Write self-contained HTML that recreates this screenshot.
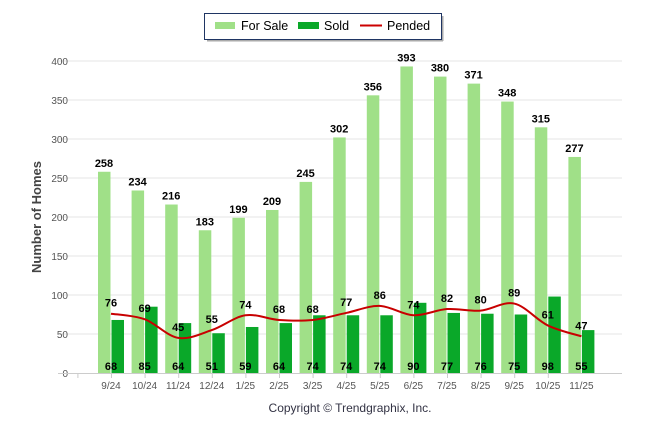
<!DOCTYPE html>
<html><head><meta charset="utf-8"><style>
body{margin:0;background:#fff;font-family:"Liberation Sans",sans-serif}
svg text{font-family:"Liberation Sans",sans-serif}
</style></head><body>
<svg id="c" width="646" height="434">
<g>
<line x1="207" y1="40.5" x2="443" y2="40.5" stroke="#aaa" stroke-width="2"/>
<line x1="442.5" y1="16" x2="442.5" y2="41" stroke="#aaa" stroke-width="2"/>
<rect x="204.5" y="13.5" width="237" height="26" fill="#fff" stroke="#1f3563" stroke-width="1"/>
<rect x="215" y="22" width="20" height="7" fill="#a0e088"/>
<text x="241" y="30" font-size="12.5">For Sale</text>
<rect x="298" y="22" width="21" height="7" fill="#0aa829"/>
<text x="324" y="30" font-size="12.5">Sold</text>
<line x1="360" y1="25.5" x2="382" y2="25.5" stroke="#c00" stroke-width="2"/>
<text x="387" y="30" font-size="12.5">Pended</text>
</g>
<text transform="translate(41,217) rotate(-90)" text-anchor="middle" font-size="13" font-weight="bold" fill="#444">Number of Homes</text>
<text x="350" y="412" text-anchor="middle" font-size="12" fill="#334">Copyright © Trendgraphix, Inc.</text>
<g id="g"></g>
</svg>
<script>
const categories=["9/24","10/24","11/24","12/24","1/25","2/25","3/25","4/25","5/25","6/25","7/25","8/25","9/25","10/25","11/25"];
const forSale=[258,234,216,183,199,209,245,302,356,393,380,371,348,315,277];
const sold=[68,85,64,51,59,64,74,74,74,90,77,76,75,98,55];
const pended=[76,69,45,55,74,68,68,77,86,74,82,80,89,61,47];
const yTicks=[0,50,100,150,200,250,300,350,400];
const NS="http://www.w3.org/2000/svg",g=document.getElementById('g');
const y=v=>373-v*0.78, xc=i=>111+i*33.6;
function mk(t,a,txt){const e=document.createElementNS(NS,t);for(const k in a)e.setAttribute(k,a[k]);if(txt!=null)e.textContent=txt;g.appendChild(e);return e;}
yTicks.forEach(v=>{
 if(v>0){const l=mk('line',{x1:58,x2:622,y1:y(v),y2:y(v),stroke:'#e6e6e6'});
 
 }
 const t=mk('text',{x:68,y:y(v)+4,'text-anchor':'end','font-size':10,fill:'#555'},v);
 
 
});
const ax=mk('line',{x1:58,x2:622,y1:373.5,y2:373.5,stroke:'#ccc'});


categories.forEach((c,i)=>{
 const tk=mk('line',{x1:xc(i)-33.6+0.5,x2:xc(i)-33.6+0.5,y1:373,y2:378,stroke:'#ccc'});
 
 
 const b=mk('rect',{x:xc(i)-13,y:y(forSale[i]),width:12.5,height:forSale[i]*0.78,fill:'#a0e088'});
 
 
 const s=mk('rect',{x:xc(i)+0.5,y:y(sold[i]),width:12.5,height:sold[i]*0.78,fill:'#0aa829'});
 
 
 const ft=mk('text',{x:xc(i)-7,y:y(forSale[i])-5,'text-anchor':'middle','font-size':11,'font-weight':'bold'},forSale[i]);
 
 
 const st=mk('text',{x:xc(i),y:370,'text-anchor':'middle','font-size':11,'font-weight':'bold'},sold[i]);
 
 
 const xl=mk('text',{x:xc(i),y:389,'text-anchor':'middle','font-size':10,fill:'#555'},c);
 
 
});
const P=pended.map((v,i)=>[xc(i),y(v)]);
let d='M'+P[0][0]+','+P[0][1];
for(let i=0;i<P.length-1;i++){const p0=P[i-1]||P[i],p1=P[i],p2=P[i+1],p3=P[i+2]||P[i+1];
 d+=` C${p1[0]+(p2[0]-p0[0])/6},${p1[1]+(p2[1]-p0[1])/6} ${p2[0]-(p3[0]-p1[0])/6},${p2[1]-(p3[1]-p1[1])/6} ${p2[0]},${p2[1]}`;}
const ln=mk('path',{d:d,fill:'none',stroke:'#c80000','stroke-width':2});


pended.forEach((v,i)=>{
 const t=mk('text',{x:xc(i),y:y(v)-7,'text-anchor':'middle','font-size':11,'font-weight':'bold'},v);
 
 
});
</script>
</body></html>
